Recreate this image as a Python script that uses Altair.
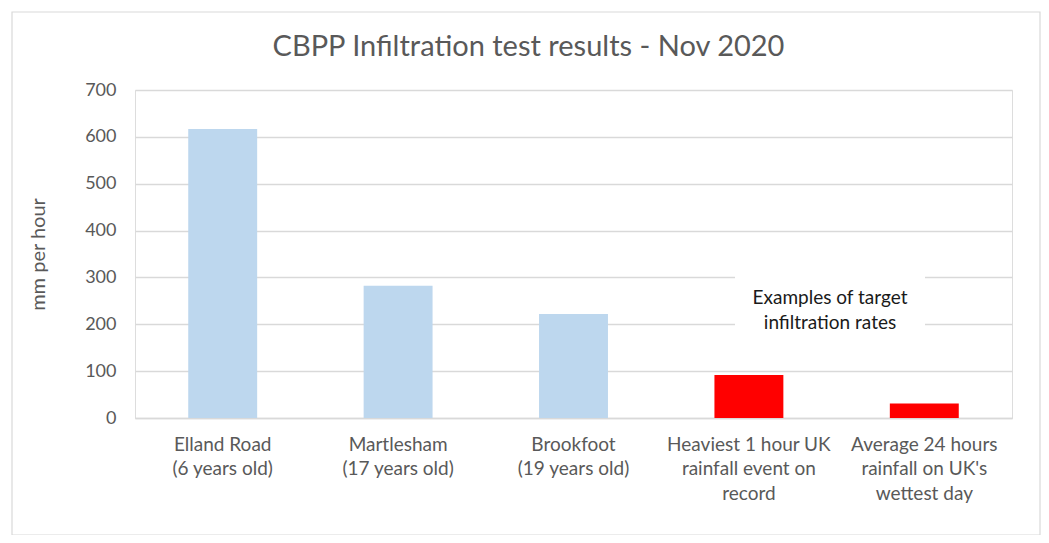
import altair as alt
import pandas as pd

categories = [
    "Elland Road|(6 years old)",
    "Martlesham|(17 years old)",
    "Brookfoot|(19 years old)",
    "Heaviest 1 hour UK|rainfall event on|record",
    "Average 24 hours|rainfall on UK's|wettest  day",
]
values = [617, 282, 222, 92, 31]
groups = ["Measured", "Measured", "Measured", "Target", "Target"]

note_lines = ["Examples of target", "infiltration rates"]
note_y = [256, 203]

df = pd.DataFrame({"cat": categories, "val": values, "grp": groups})
note_df = pd.DataFrame({"txt": note_lines, "y": note_y})

FONT = "Lato"
GREY = "#595959"
W, H = 877, 328

x_enc = alt.X(
    "cat:N",
    sort=categories,
    scale=alt.Scale(paddingInner=0.607, paddingOuter=0.3035),
    axis=alt.Axis(
        title=None,
        labelAngle=0,
        labelExpr="split(datum.label, '|')",
        labelFont=FONT,
        labelFontSize=19,
        labelColor=GREY,
        labelLineHeight=24.5,
        labelPadding=17,
        labelLimit=250,
        ticks=False,
        domain=True,
        domainColor="#D9D9D9",
        domainWidth=1.5,
    ),
)

y_scale = alt.Scale(domain=[0, 700])

bars = alt.Chart(df).mark_bar().encode(
    x=x_enc,
    y=alt.Y(
        "val:Q",
        scale=y_scale,
        axis=alt.Axis(
            values=[0, 100, 200, 300, 400, 500, 600, 700],
            title="mm per hour",
            titleFont=FONT,
            titleFontSize=20,
            titleFontWeight="normal",
            titleColor=GREY,
            titleAngle=-90,
            titleX=-97,
            titleY=H / 2,
            titleAlign="center",
            titleBaseline="middle",
            labelFont=FONT,
            labelFontSize=18,
            labelColor=GREY,
            labelPadding=19,
            ticks=False,
            domain=False,
            grid=True,
            gridColor="#D9D9D9",
            gridWidth=1.5,
        ),
    ),
    color=alt.Color(
        "grp:N",
        scale=alt.Scale(domain=["Measured", "Target"], range=["#BDD7EE", "#FF0000"]),
        legend=None,
    ),
)

note_box = alt.Chart(note_df).mark_rect(color="white").encode(
    x=alt.value(600), x2=alt.value(790),
    y=alt.value(186), y2=alt.value(255),
).transform_filter("datum.y == 256")

note_text = alt.Chart(note_df).mark_text(
    font=FONT, fontSize=19, color="#1a1a1a", align="center", baseline="middle"
).encode(
    x=alt.value(695),
    y=alt.Y("y:Q", scale=y_scale),
    text="txt:N",
)

frame = alt.Chart(note_df).mark_rect(
    fill=None, stroke="#D9D9D9", strokeWidth=1.2, clip=False
).encode(
    x=alt.value(-123), x2=alt.value(905),
    y=alt.value(-78), y2=alt.value(445),
).transform_filter("datum.y == 256")

chart = alt.layer(frame, bars, note_box, note_text).properties(
    width=W,
    height=H,
    title=alt.TitleParams(
        "CBPP Infiltration test results - Nov 2020",
        font=FONT,
        fontSize=29,
        fontWeight="normal",
        color=GREY,
        anchor="middle",
        dx=-45,
        offset=-74,
        baseline="alphabetic",
    ),
    padding={"left": 127, "top": 82, "right": 29, "bottom": 117},
    autosize=alt.AutoSizeParams(type="none"),
).configure_view(stroke=None).configure(background="white")

chart.save("out.html", embed_options={"renderer": "svg", "actions": False})
